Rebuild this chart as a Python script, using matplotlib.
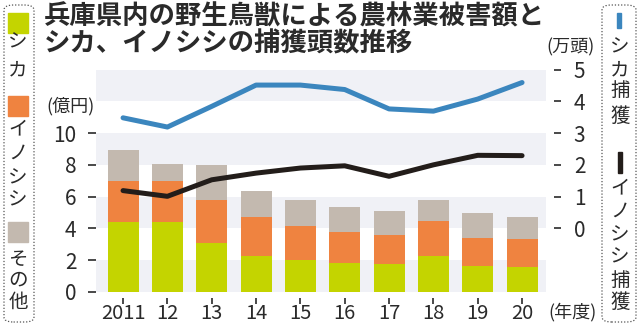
import numpy as np
import matplotlib.pyplot as plt
from matplotlib.patches import Rectangle, FancyBboxPatch

plt.rcParams['font.family'] = ['Noto Sans CJK JP', 'DejaVu Sans']

# データ（億円 / 万頭）
years = ['2011', '12', '13', '14', '15', '16', '17', '18', '19', '20']
shika = [4.40, 4.40, 3.08, 2.29, 1.99, 1.82, 1.78, 2.24, 1.61, 1.55]
inoshishi = [2.56, 2.56, 2.69, 2.43, 2.16, 1.95, 1.83, 2.20, 1.79, 1.78]
sonota = [1.95, 1.11, 2.20, 1.61, 1.62, 1.58, 1.46, 1.37, 1.55, 1.37]
shika_hokaku = [3.48, 3.19, 3.84, 4.51, 4.51, 4.37, 3.76, 3.69, 4.07, 4.59]
ino_hokaku = [1.19, 1.01, 1.53, 1.74, 1.90, 1.97, 1.64, 2.00, 2.30, 2.29]

c_shika = '#c4d400'
c_ino = '#ef8340'
c_other = '#c3b9af'
c_blue = '#3b86be'
c_black = '#231d1a'
c_band = '#f0f1f6'
c_text = '#2a2a2a'

W, H = 639, 327
def fx(x):
    return x / W
def fy(y):
    return 1 - y / H

fig = plt.figure(figsize=(6.39, 3.27), dpi=100)
ax = fig.add_axes([fx(96), fy(292), fx(546) - fx(96), fy(69.5) - fy(292)])

x = np.arange(len(years))
for lo in (0, 4, 8, 12):
    ax.axhspan(lo, lo + 2, color=c_band, zorder=0, lw=0)

shika = np.array(shika)
inoshishi = np.array(inoshishi)
sonota = np.array(sonota)
ax.bar(x, shika, width=0.7, color=c_shika, zorder=2)
ax.bar(x, inoshishi, width=0.7, bottom=shika, color=c_ino, zorder=2)
ax.bar(x, sonota, width=0.7, bottom=shika + inoshishi, color=c_other, zorder=2)

ax.set_xlim(-0.61, 9.54)
ax.set_ylim(0, 14)
ax.set_yticks(range(0, 11, 2))
ax.set_xticks(x)
ax.set_xticklabels(years)
for s in ax.spines.values():
    s.set_visible(False)
ax.spines['bottom'].set_position(('outward', 4))
ax.tick_params(axis='y', length=6, width=1.2, color=c_text, pad=8,
               labelsize=15, labelcolor=c_text)
ax.tick_params(axis='x', length=4, width=1.2, color=c_text, pad=0,
               labelsize=14.5, labelcolor=c_text)

ax2 = ax.twinx()
ax2.set_ylim(-2, 5)
ax2.set_yticks(range(0, 6))
for s in ax2.spines.values():
    s.set_visible(False)
ax2.spines['right'].set_position(('outward', 6))
ax2.tick_params(axis='y', length=5, width=1.2, color=c_text, pad=9,
                labelsize=15, labelcolor=c_text)
ax2.plot(x, shika_hokaku, color=c_blue, lw=3.6, solid_capstyle='round', zorder=3)
ax2.plot(x, ino_hokaku, color=c_black, lw=3.6, solid_capstyle='round', zorder=3)

# タイトル
fig.text(fx(44), fy(17), '兵庫県内の野生鳥獣による農林業被害額と', fontsize=19,
         fontweight='bold', color=c_text, va='center', ha='left')
fig.text(fx(44), fy(44), 'シカ、イノシシの捕獲頭数推移', fontsize=19,
         fontweight='bold', color=c_text, va='center', ha='left')

# 単位
fig.text(fx(70), fy(106), '(億円)', fontsize=13, color=c_text, ha='center', va='center')
fig.text(fx(570), fy(47), '(万頭)', fontsize=13, color=c_text, ha='center', va='center')
fig.text(fx(572), fy(312), '(年度)', fontsize=13, color=c_text, ha='center', va='center')

# 凡例枠
for bx0, bx1 in ((4, 34), (602, 636)):
    fig.patches.append(FancyBboxPatch((fx(bx0), fy(322)), fx(bx1 - bx0), fy(5) - fy(322),
                                      boxstyle='round,pad=0,rounding_size=0.015',
                                      transform=fig.transFigure, fill=False,
                                      ec='#555555', lw=0.9, ls=(0, (1, 1.5))))

def square(x0, y0, size, color):
    fig.patches.append(Rectangle((fx(x0), fy(y0 + size)), fx(size), fy(y0) - fy(y0 + size),
                                 transform=fig.transFigure, color=color))

def vtext(xc, ys, chars):
    for y, ch in zip(ys, chars):
        fig.text(fx(xc), fy(y), ch, fontsize=14, color=c_text, ha='center', va='center')

square(8, 13, 20, c_shika)
vtext(18, [42, 70], 'シカ')
square(8, 96, 20, c_ino)
vtext(18, [129, 153, 178, 200], 'イノシシ')
square(8, 222, 20, c_other)
vtext(18, [259, 280, 302], 'その他')

fig.patches.append(Rectangle((fx(617), fy(28)), fx(4), fy(13) - fy(28),
                             transform=fig.transFigure, color=c_blue))
vtext(620, [47, 70, 91, 116], 'シカ捕獲')
fig.patches.append(Rectangle((fx(618), fy(173)), fx(4), fy(152) - fy(173),
                             transform=fig.transFigure, color=c_black))
vtext(620, [188, 211, 235, 257, 281, 302], 'イノシシ捕獲')

fig.savefig('out.png', dpi=100)
